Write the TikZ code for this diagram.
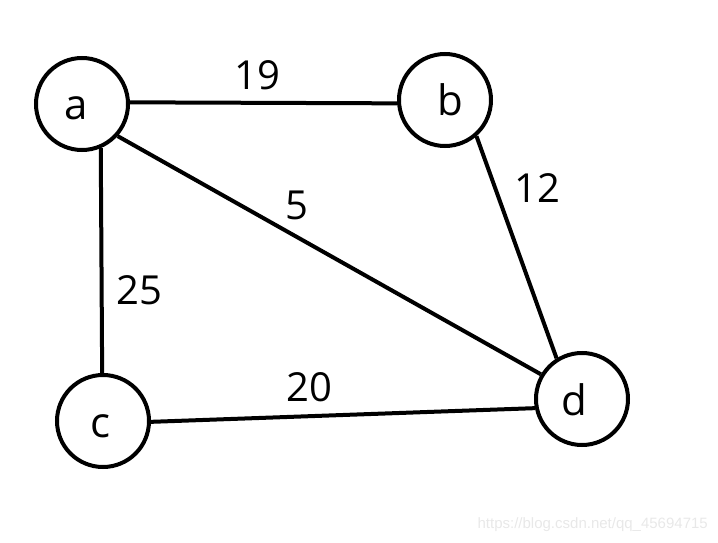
\documentclass[tikz,border=0pt]{standalone}
\usepackage{fontspec}
\setmainfont{Open Sans}
\newfontfamily\wmfont{Liberation Sans}
\newcommand{\shiftx}[2]{\kern#1\relax #2}
\begin{document}
\begin{tikzpicture}[x=1pt,y=-1pt,
  vertex/.style={draw,circle,line width=4pt,minimum size=92pt,inner sep=0pt,text height=32pt,text depth=0pt,font=\fontsize{42}{42}\selectfont},
  edge/.style={line width=4pt},
  weight/.style={inner sep=0pt,font=\fontsize{40}{40}\selectfont}]
\useasboundingbox (0,0) rectangle (718,543);
\node[vertex] (a) at (82,104) {\shiftx{-12pt}{a}};
\node[vertex] (b) at (445,100) {\shiftx{10pt}{b}};
\node[vertex] (c) at (103,421) {\shiftx{-6pt}{c}};
\node[vertex] (d) at (582,399) {\shiftx{-16pt}{d}};
\draw[edge] (a.2) -- (b.184);
\draw[edge] (a.-67) -- (c.91);
\draw[edge] (a.-42) -- (d.149);
\draw[edge] (b.-49) -- (d.122);
\draw[edge] (c.-1) -- (d.191);
\node[weight] (w19) at (257,75) {19};
\node[weight] (w12) at (537,188) {12};
\node[weight] (w5) at (297,205) {5};
\node[weight] (w25) at (139,290) {25};
\node[weight] (w20) at (309,387) {20};
\node[inner sep=0pt,anchor=east,text=black!9,font=\wmfont\fontsize{15}{15}\selectfont] (wm) at (708,525) {https://blog.csdn.net/qq\_45694715};
\end{tikzpicture}
\end{document}
